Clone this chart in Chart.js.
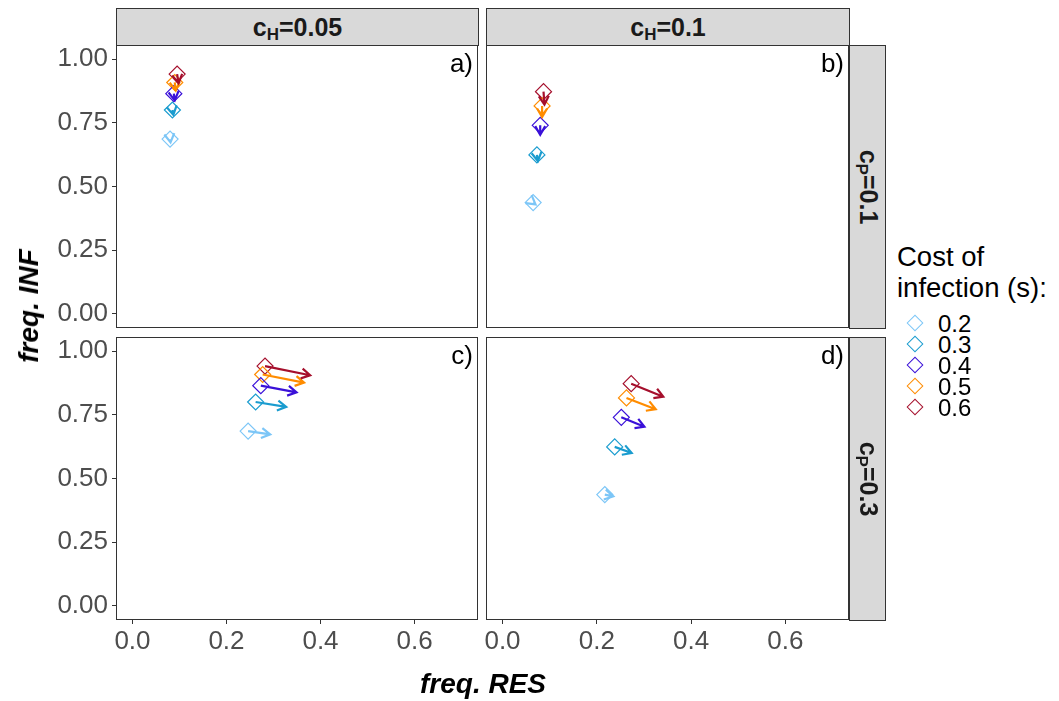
<!DOCTYPE html>
<html lang="en">
<head>
<meta charset="UTF-8">
<title>freq. INF vs freq. RES</title>
<script src="https://cdn.jsdelivr.net/npm/chart.js"></script>
<style>
  body { margin: 0; width: 1059px; height: 701px; position: relative; overflow: hidden; background: #fff;
         font-family: "Liberation Sans", Arial, sans-serif; }
  canvas { position: absolute; }
  .strip { position: absolute; box-sizing: border-box; background: #d9d9d9; border: 1px solid #333;
           color: #1a1a1a; font-weight: bold; font-size: 25px; }
  .strip span { position: absolute; left: 50%; top: 50%; white-space: nowrap; line-height: 25px; }
  .strip sub { font-size: 17px; vertical-align: -4px; line-height: 0; }
  .title { position: absolute; white-space: nowrap; font-weight: bold; font-style: italic; font-size: 28px;
           line-height: 28px; color: #000; }
  #legend { position: absolute; left: 897px; top: 241px; font-size: 27.5px; line-height: 31px; color: #000; }
  .key { position: absolute; left: 892px; height: 21px; width: 100px; }
  .key i { position: absolute; left: 17px; top: 4px; width: 12px; height: 12px; box-sizing: border-box;
           border: 1.3px solid; transform: rotate(45deg); }
  .key b { position: absolute; left: 46px; top: 0; font-weight: normal; font-size: 24px; line-height: 21px; }
</style>
</head>
<body>

<canvas id="pa" width="498" height="323" style="left:0px; top:25px"></canvas>
<canvas id="pb" width="403" height="323" style="left:466px; top:25px"></canvas>
<canvas id="pc" width="498" height="363" style="left:0px; top:317px"></canvas>
<canvas id="pd" width="403" height="363" style="left:466px; top:317px"></canvas>

<div class="strip" style="left:116px; top:8px; width:363px; height:38px"><span style="transform:translate(-50%,-50%)">c<sub>H</sub>=0.05</span></div>
<div class="strip" style="left:486px; top:8px; width:364px; height:38px"><span style="transform:translate(-50%,-50%)">c<sub>H</sub>=0.1</span></div>
<div class="strip" style="left:849px; top:45px; width:37px; height:284px"><span style="transform:translate(-50%,-50%) rotate(90deg)">c<sub>P</sub>=0.1</span></div>
<div class="strip" style="left:849px; top:337px; width:37px; height:284px"><span style="transform:translate(-50%,-50%) rotate(90deg)">c<sub>P</sub>=0.3</span></div>

<div class="title" style="left:483px; top:684px; transform:translate(-50%,-50%)">freq. RES</div>
<div class="title" style="left:29px; top:306px; transform:translate(-50%,-50%) rotate(-90deg)">freq. INF</div>

<div id="legend">Cost of<br>infection (s):</div>
<div id="keys"></div>

<script>
  // cost of infection levels and their colours
  const costLevels = ['0.2', '0.3', '0.4', '0.5', '0.6'];
  const costColors = ['#7cc6f7', '#1a9ccf', '#3a10d8', '#ff8c00', '#a50f2c'];

  // freq. INF (start of arrow = diamond, end = arrow tip), one pair per column (c_H)
  const infStartH005 = [0.686, 0.800, 0.864, 0.908, 0.941];
  const infEndH005   = [0.673, 0.781, 0.838, 0.876, 0.905];
  const infStartH01  = [0.437, 0.624, 0.740, 0.816, 0.872];
  const infEndH01    = [0.430, 0.600, 0.703, 0.772, 0.821];

  // freq. RES per panel
  const resStartA = [0.080, 0.085, 0.088, 0.090, 0.095];
  const resEndA   = [0.081, 0.087, 0.090, 0.092, 0.098];
  const resStartB = [0.065, 0.073, 0.080, 0.084, 0.087];
  const resEndB   = [0.070, 0.075, 0.080, 0.084, 0.089];
  const resStartC = [0.246, 0.262, 0.273, 0.277, 0.282];
  const resEndC   = [0.293, 0.327, 0.349, 0.365, 0.378];
  const resStartD = [0.217, 0.238, 0.252, 0.263, 0.273];
  const resEndD   = [0.235, 0.274, 0.301, 0.325, 0.341];

  const xTickValues = [0, 0.2, 0.4, 0.6];
  const xTickLabels = ['0.0', '0.2', '0.4', '0.6'];
  const yTickValues = [0, 0.25, 0.5, 0.75, 1];
  const yTickLabels = ['0.00', '0.25', '0.50', '0.75', '1.00'];

  const fontFamily = '"Liberation Sans", Arial, sans-serif';

  // arrows from diamond to tip, open head like ggplot arrow()
  const arrowPlugin = {
    id: 'arrows',
    afterDatasetsDraw(chart, args, opts) {
      const {ctx, scales: {x, y}} = chart;
      ctx.save();
      ctx.lineWidth = 2.2;
      ctx.lineJoin = 'miter';
      opts.x0.forEach((v, i) => {
        const x0 = x.getPixelForValue(v), y0 = y.getPixelForValue(opts.y0[i]);
        const x1 = x.getPixelForValue(opts.x1[i]), y1 = y.getPixelForValue(opts.y1[i]);
        const a = Math.atan2(y1 - y0, x1 - x0);
        const len = 10, spread = Math.PI / 6;
        ctx.strokeStyle = costColors[i];
        ctx.beginPath();
        ctx.moveTo(x0, y0);
        ctx.lineTo(x1, y1);
        ctx.moveTo(x1 - len * Math.cos(a - spread), y1 - len * Math.sin(a - spread));
        ctx.lineTo(x1, y1);
        ctx.lineTo(x1 - len * Math.cos(a + spread), y1 - len * Math.sin(a + spread));
        ctx.stroke();
      });
      ctx.restore();
    }
  };

  // panel border + panel letter
  const panelPlugin = {
    id: 'panel',
    afterDraw(chart, args, opts) {
      const {ctx, chartArea: a} = chart;
      ctx.save();
      ctx.strokeStyle = '#333';
      ctx.lineWidth = 1;
      ctx.strokeRect(a.left + 0.5, a.top + 0.5, a.right - a.left - 1, a.bottom - a.top - 1);
      ctx.fillStyle = '#000';
      ctx.font = '26px ' + fontFamily;
      ctx.textAlign = 'right';
      ctx.textBaseline = 'alphabetic';
      ctx.fillText(opts.letter, a.right - 5, a.top + 27);
      ctx.restore();
    }
  };

  function makePanel(id, resStart, resEnd, infStart, infEnd, letter, showX, showY, pad) {
    const tickFont = {family: fontFamily, size: 26};
    const grid = {drawOnChartArea: false, drawTicks: true, tickLength: 4, tickColor: '#333', tickWidth: 1};
    return new Chart(document.getElementById(id), {
      type: 'scatter',
      data: {
        datasets: costLevels.map((c, i) => ({
          label: c,
          data: [{x: resStart[i], y: infStart[i]}],
          pointStyle: 'rectRot',
          pointRadius: 8,
          borderColor: costColors[i],
          backgroundColor: 'rgba(0,0,0,0)',
          borderWidth: 1.2
        }))
      },
      options: {
        responsive: false,
        animation: false,
        devicePixelRatio: 1,
        events: [],
        layout: {padding: pad},
        plugins: {
          legend: {display: false},
          tooltip: {enabled: false},
          arrows: {x0: resStart, y0: infStart, x1: resEnd, y1: infEnd},
          panel: {letter: letter}
        },
        scales: {
          x: {
            type: 'linear', min: -0.035, max: 0.735, display: showX,
            afterBuildTicks: s => { s.ticks = xTickValues.map(v => ({value: v})); },
            afterFit: s => { s.height = showX ? 45 : 0; },
            grid: grid,
            border: {display: false},
            ticks: {font: tickFont, color: '#4d4d4d', padding: 2, maxRotation: 0, autoSkip: false,
                    callback: (v, i) => xTickLabels[i]}
          },
          y: {
            type: 'linear', min: -0.055, max: 1.055, display: showY,
            afterBuildTicks: s => { s.ticks = yTickValues.map(v => ({value: v})); },
            afterFit: s => { s.width = showY ? 116 : 0; },
            grid: grid,
            border: {display: false},
            ticks: {font: tickFont, color: '#4d4d4d', padding: 4, autoSkip: false,
                    callback: (v, i) => yTickLabels[i]}
          }
        }
      },
      plugins: [arrowPlugin, panelPlugin]
    });
  }

  makePanel('pa', resStartA, resEndA, infStartH005, infEndH005, 'a)', false, true, {left: 0, top: 20, right: 20, bottom: 20});
  makePanel('pb', resStartB, resEndB, infStartH01, infEndH01, 'b)', false, false, {left: 20, top: 20, right: 20, bottom: 20});
  makePanel('pc', resStartC, resEndC, infStartH005, infEndH005, 'c)', true, true, {left: 0, top: 20, right: 20, bottom: 15});
  makePanel('pd', resStartD, resEndD, infStartH01, infEndH01, 'd)', true, false, {left: 20, top: 20, right: 20, bottom: 15});

  // legend keys
  const keys = document.getElementById('keys');
  costLevels.forEach((c, i) => {
    const row = document.createElement('div');
    row.className = 'key';
    row.style.top = (313 + i * 21) + 'px';
    row.innerHTML = '<i style="border-color:' + costColors[i] + '"></i><b>' + c + '</b>';
    keys.appendChild(row);
  });
</script>
</body>
</html>
